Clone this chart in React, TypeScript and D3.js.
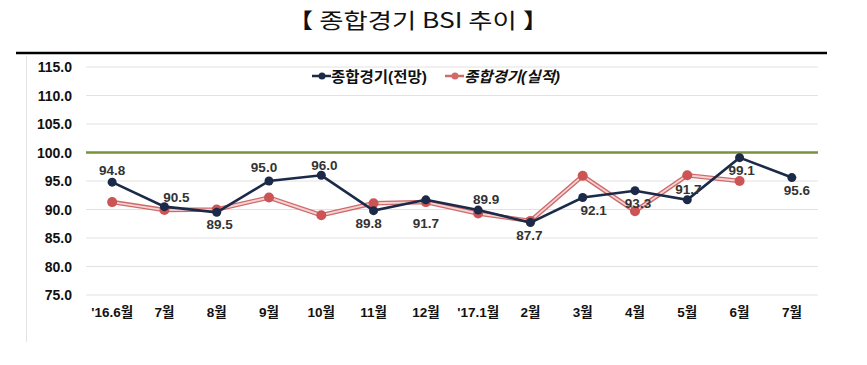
import * as d3 from 'd3';
import React, { useEffect, useRef } from 'react';

const months = ["'16.6월", '7월', '8월', '9월', '10월', '11월', '12월', "'17.1월", '2월', '3월', '4월', '5월', '6월', '7월'];
const outlook = [94.8, 90.5, 89.5, 95.0, 96.0, 89.8, 91.7, 89.9, 87.7, 92.1, 93.3, 91.7, 99.1, 95.6];
const actual = [91.3, 89.9, 90.0, 92.1, 89.0, 91.1, 91.3, 89.3, 88.0, 95.9, 89.7, 96.0, 95.0];
const yTicks = [75, 80, 85, 90, 95, 100, 105, 110, 115];

// label offsets (dx, dy) for the 전망 data labels
const labelOffset: [number, number][] = [
  [0, -12], [12, -10], [3, 12], [-5, -14], [3, -10], [-5, 12], [0, 23],
  [8, -11], [-1, 12], [11, 12], [3, 12], [1, -11], [2, 12], [5, 12],
];

const FONT = "'Liberation Sans', Arial, 'Noto Sans CJK KR', sans-serif";

const App = () => {
  const ref = useRef<SVGSVGElement>(null);

  useEffect(() => {
    const svg = d3.select(ref.current);
    svg.selectAll('*').remove();

    // title
    svg.append('text')
      .attr('x', 418).attr('y', 28)
      .attr('text-anchor', 'middle')
      .attr('font-family', "'Noto Sans CJK KR', sans-serif")
      .attr('font-size', 21)
      .attr('font-weight', 400)
      .attr('textLength', 262)
      .attr('lengthAdjust', 'spacingAndGlyphs')
      .attr('fill', '#111')
      .text('【 종합경기 BSI 추이 】');

    svg.append('line')
      .attr('x1', 16).attr('x2', 827).attr('y1', 53).attr('y2', 53)
      .attr('stroke', '#000').attr('stroke-width', 2.5);

    svg.append('line')
      .attr('x1', 26.5).attr('x2', 26.5).attr('y1', 56).attr('y2', 342)
      .attr('stroke', '#e4e4e4').attr('stroke-width', 1);

    const x = d3.scaleBand<string>()
      .domain(months.map((m, i) => i + ''))
      .range([86, 818]);
    const cx = (i: number) => (x(i + '') as number) + x.bandwidth() / 2;

    const y = d3.scaleLinear().domain([75, 115]).range([295, 67]);

    // grid
    svg.append('g')
      .selectAll('line')
      .data(yTicks)
      .join('line')
      .attr('x1', 86).attr('x2', 818)
      .attr('y1', d => y(d)).attr('y2', d => y(d))
      .attr('stroke', '#e2e2e2').attr('stroke-width', 1);

    svg.append('g')
      .selectAll('text')
      .data(yTicks)
      .join('text')
      .attr('x', 72).attr('y', d => y(d) + 5)
      .attr('text-anchor', 'end')
      .attr('font-family', FONT).attr('font-size', 14).attr('font-weight', 'bold')
      .attr('fill', '#111')
      .text(d => d.toFixed(1));

    svg.append('g')
      .selectAll('text')
      .data(months)
      .join('text')
      .attr('x', (d, i) => cx(i)).attr('y', 317)
      .attr('text-anchor', 'middle')
      .attr('font-family', FONT).attr('font-size', 13.5).attr('font-weight', 'bold')
      .attr('fill', '#111')
      .text(d => d);

    // reference line at 100
    svg.append('line')
      .attr('x1', 86).attr('x2', 818).attr('y1', y(100)).attr('y2', y(100))
      .attr('stroke', '#77933c').attr('stroke-width', 2.5);

    const line = d3.line<number>()
      .x((d, i) => cx(i))
      .y(d => y(d));

    // 실적 (red, double line)
    svg.append('path').datum(actual)
      .attr('fill', 'none').attr('stroke', '#cf6a6b').attr('stroke-width', 4.5)
      .attr('d', line);
    svg.append('path').datum(actual)
      .attr('fill', 'none').attr('stroke', '#f5d3d3').attr('stroke-width', 1.8)
      .attr('d', line);
    svg.append('g').selectAll('circle').data(actual).join('circle')
      .attr('cx', (d, i) => cx(i)).attr('cy', d => y(d)).attr('r', 5)
      .attr('fill', '#cc5455');

    // 전망 (navy)
    svg.append('path').datum(outlook)
      .attr('fill', 'none').attr('stroke', '#1b2a48').attr('stroke-width', 2.6)
      .attr('d', line);
    svg.append('g').selectAll('circle').data(outlook).join('circle')
      .attr('cx', (d, i) => cx(i)).attr('cy', d => y(d)).attr('r', 4.5)
      .attr('fill', '#1b2a48');

    svg.append('g').selectAll('text').data(outlook).join('text')
      .attr('x', (d, i) => cx(i) + labelOffset[i][0])
      .attr('y', (d, i) => y(d) + labelOffset[i][1] + 5)
      .attr('text-anchor', 'middle')
      .attr('font-family', FONT).attr('font-size', 13.5).attr('font-weight', 'bold')
      .attr('fill', '#333')
      .text(d => d.toFixed(1));

    // legend
    const legend = [
      { name: '종합경기(전망)', color: '#1b2a48', x: 312, italic: false },
      { name: '종합경기(실적)', color: '#d36a6a', x: 445, italic: true },
    ];
    const lg = svg.append('g').selectAll('g').data(legend).join('g')
      .attr('transform', d => `translate(${d.x},76)`);
    lg.append('line').attr('x1', 0).attr('x2', 19)
      .attr('stroke', d => d.color).attr('stroke-width', 2.5);
    lg.append('circle').attr('cx', 10).attr('r', 3.5).attr('fill', d => d.color);
    lg.append('text')
      .attr('x', 19).attr('y', 5.5)
      .attr('font-family', FONT).attr('font-size', 15).attr('font-weight', 'bold')
      .attr('font-style', d => d.italic ? 'italic' : 'normal')
      .attr('textLength', 96)
      .attr('lengthAdjust', 'spacingAndGlyphs')
      .attr('fill', '#111')
      .text(d => d.name);
  }, []);

  return (
    <div style={{ position: 'absolute', left: 0, top: 0 }}>
      <svg ref={ref} width={867} height={365} style={{ display: 'block', background: '#fff' }} />
    </div>
  );
};

export default App;
